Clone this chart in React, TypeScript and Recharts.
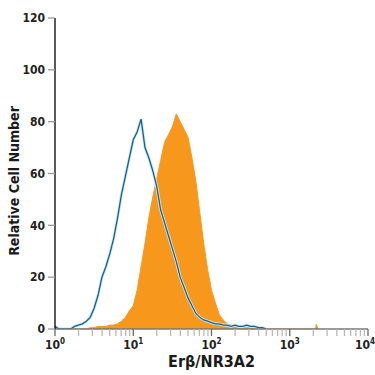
import React from 'react';
import { ComposedChart, Area, Line, XAxis, YAxis, Label } from 'recharts';

const FONT = "'Liberation Sans Narrow', 'DejaVu Sans Condensed', 'Liberation Sans', sans-serif";

// bin positions, in log10(fluorescence)
const binLog = [
  0.0, 0.05, 0.1, 0.15, 0.2, 0.25, 0.3, 0.35, 0.4, 0.45,
  0.5, 0.55, 0.6, 0.65, 0.7, 0.75, 0.8, 0.85, 0.9, 0.95,
  1.0, 1.05, 1.1, 1.15, 1.2, 1.25, 1.3, 1.35, 1.4, 1.45,
  1.5, 1.55, 1.6, 1.65, 1.7, 1.75, 1.8, 1.85, 1.9, 1.95,
  2.0, 2.05, 2.1, 2.15, 2.2, 2.25, 2.3, 2.35, 2.4, 2.45,
  2.5, 2.55, 2.6, 2.65, 2.7, 3.33, 3.34, 3.36,
];

// isotype control (blue outline)
const isotype: (number | null)[] = [
  1, 0, 0, 0, 0, 1, 1.5, 2, 3, 4.5,
  8, 13, 20, 24, 29, 35, 43, 52, 59, 66,
  73, 76, 81, 70, 66, 61, 55, 46, 41, 36,
  31, 26, 20, 16, 12, 9, 6, 4.5, 3.5, 3,
  2.5, 2, 2, 1.5, 1.5, 1, 1.5, 1, 1, 1.5,
  1, 1, 0.5, 0.5, 0, null, null, null,
];

// Erβ/NR3A2 stained (orange filled)
const stained = [
  0, 0, 0, 0, 0, 0, 0, 0, 0, 0.5,
  0.5, 1, 1, 1, 1.5, 1.5, 2, 3, 4.5, 7,
  9, 15, 24, 33, 43, 51, 58, 65, 72, 75,
  78, 83, 80, 77, 74, 66, 57, 45, 33, 23,
  15, 10, 5.5, 3.5, 2, 1.5, 1, 1, 0.5, 0.5,
  0.5, 0, 0, 0, 0, 0, 1.8, 0,
];

const yTicks = [0, 20, 40, 60, 80, 100, 120];
const decades = [0, 1, 2, 3, 4];
const minorMultipliers = [2, 3, 4, 5, 6, 7, 8, 9];

const xTicks: number[] = [];
decades.forEach((d) => {
  xTicks.push(d);
  if (d < 4) minorMultipliers.forEach((m) => xTicks.push(d + Math.log10(m)));
});

const data = binLog.map((x, i) => ({ x, iso: isotype[i], pos: stained[i] }));

const XTick = (props: any) => {
  const { x, y, payload } = props;
  const v = payload.value as number;
  const major = Math.abs(v - Math.round(v)) < 1e-6;
  const last = major && Math.round(v) === 4;
  return (
    <g>
      <line x1={x} x2={x} y1={y} y2={y + 7} stroke={major ? '#6a6a6a' : '#b8b8b8'} strokeWidth={1.3} />
      {major && (
        <text
          x={last ? x - 3 : x}
          y={y + 20}
          textAnchor="middle"
          fontSize={12}
          fontWeight="bold"
          fill="#222"
          fontFamily={FONT}
        >
          10
          <tspan dy={-5} fontSize={8}>{Math.round(v)}</tspan>
        </text>
      )}
    </g>
  );
};

export default function App() {
  return (
    <div style={{ position: 'absolute', left: 0, top: 0, background: '#fff' }}>
      <ComposedChart
        width={375}
        height={375}
        data={data}
        margin={{ top: 18, right: 7, bottom: 10, left: 10 }}
      >
        <XAxis
          dataKey="x"
          type="number"
          domain={[0, 4]}
          ticks={xTicks}
          interval={0}
          tickLine={false}
          tickSize={0}
          tickMargin={0}
          tick={<XTick />}
          axisLine={{ stroke: '#777', strokeWidth: 1.3 }}
          height={36}
          allowDataOverflow
        >
          <Label
            content={(p: any) => (
              <text
                x={p.viewBox.x + p.viewBox.width / 2}
                y={367}
                textAnchor="middle"
                fontSize={16}
                fontWeight="bold"
                fill="#1a1a1a"
                fontFamily={FONT}
              >
                Erβ/NR3A2
              </text>
            )}
          />
        </XAxis>
        <YAxis
          type="number"
          domain={[0, 120]}
          ticks={yTicks}
          interval={0}
          width={45}
          tickSize={7}
          tickMargin={3}
          tickLine={{ stroke: '#9a9a9a', strokeWidth: 1.3 }}
          axisLine={{ stroke: '#000', strokeWidth: 1.3 }}
          tick={{ fill: '#222', fontSize: 12, fontWeight: 'bold', fontFamily: FONT }}
          allowDataOverflow
        >
          <Label
            content={() => (
              <text
                x={19}
                y={181}
                transform="rotate(-90 19 181)"
                textAnchor="middle"
                fontSize={14}
                fontWeight="bold"
                fill="#1a1a1a"
                fontFamily={FONT}
              >
                Relative Cell Number
              </text>
            )}
          />
        </YAxis>
        <Area
          dataKey="pos"
          type="linear"
          stroke="#F7981D"
          strokeWidth={1}
          fill="#F7981D"
          fillOpacity={1}
          isAnimationActive={false}
          dot={false}
          activeDot={false}
        />
        <Line
          dataKey="iso"
          type="linear"
          stroke="#cfe6f2"
          strokeWidth={3}
          dot={false}
          activeDot={false}
          isAnimationActive={false}
        />
        <Line
          dataKey="iso"
          type="linear"
          stroke="#17618E"
          strokeWidth={1.3}
          dot={false}
          activeDot={false}
          isAnimationActive={false}
        />
      </ComposedChart>
    </div>
  );
}
